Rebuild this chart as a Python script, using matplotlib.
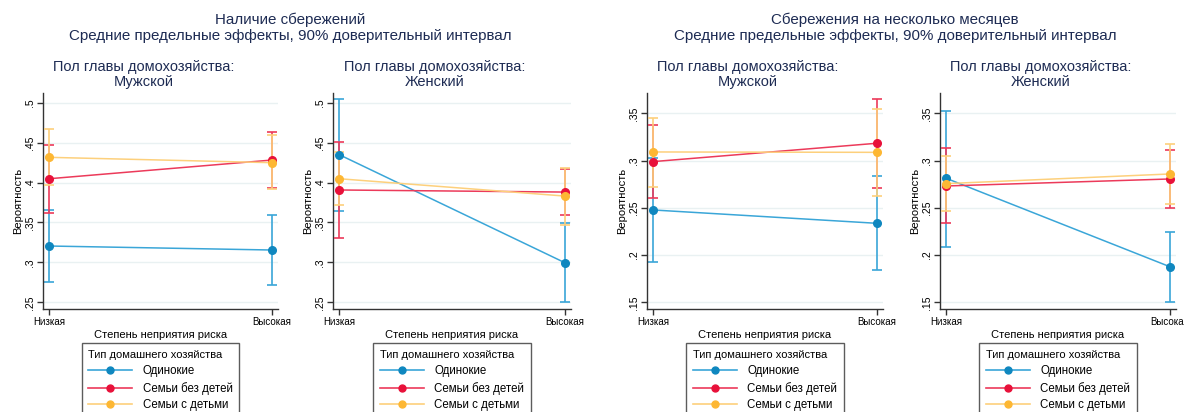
import matplotlib
matplotlib.use('Agg')
import matplotlib.pyplot as plt
from matplotlib.lines import Line2D

plt.rcParams['font.family'] = ['Liberation Sans', 'DejaVu Sans']

W, H = 1184, 412

types = ['Одинокие', 'Семьи без детей', 'Семьи с детьми']
risk = ['Низкая', 'Высокая']

# Наличие сбережений, мужской
sav_m_est = [[0.3205, 0.3155], [0.4048, 0.4282], [0.4316, 0.4249]]
sav_m_lo = [[0.2750, 0.2721], [0.3614, 0.3927], [0.3965, 0.3915]]
sav_m_hi = [[0.3656, 0.3594], [0.4474, 0.4637], [0.4666, 0.4595]]

# Наличие сбережений, женский
sav_f_est = [[0.4349, 0.2997], [0.3907, 0.3881], [0.4048, 0.3831]]
sav_f_lo = [[0.3648, 0.2500], [0.3301, 0.3589], [0.3714, 0.3472]]
sav_f_hi = [[0.5046, 0.3489], [0.4512, 0.4169], [0.4382, 0.4186]]

# Сбережения на несколько месяцев, мужской
mon_m_est = [[0.2477, 0.2336], [0.2989, 0.3183], [0.3091, 0.3087]]
mon_m_lo = [[0.1930, 0.1839], [0.2600, 0.2713], [0.2717, 0.2625]]
mon_m_hi = [[0.3024, 0.2833], [0.3377, 0.3652], [0.3454, 0.3542]]

# Сбережения на несколько месяцев, женский
mon_f_est = [[0.2812, 0.1877], [0.2731, 0.2805], [0.2756, 0.2858]]
mon_f_lo = [[0.2089, 0.1507], [0.2343, 0.2502], [0.2463, 0.2544]]
mon_f_hi = [[0.3525, 0.2248], [0.3130, 0.3108], [0.3049, 0.3172]]

sav_ticks = [0.25, 0.3, 0.35, 0.4, 0.45, 0.5]
sav_labels = ['.25', '.3', '.35', '.4', '.45', '.5']
mon_ticks = [0.15, 0.2, 0.25, 0.3, 0.35]
mon_labels = ['.15', '.2', '.25', '.3', '.35']

titles = ['Наличие сбережений', 'Сбережения на несколько месяцев']
subtitle = 'Средние предельные эффекты, 90% доверительный интервал'
gender = ['Мужской', 'Женский']

mark_colors = ['#0f87bf', '#e8113a', '#fdb733']
line_colors = ['#3aa6d8', '#ec3a5a', '#fdd07c']
navy = '#1d2b53'

fig = plt.figure(figsize=(W / 100, H / 100), dpi=100)


def rect(l, r, t=93, b=309):
    return [l / W, 1 - b / H, (r - l) / W, (b - t) / H]


panels = [
    (43, 278, sav_m_est, sav_m_lo, sav_m_hi, sav_ticks, sav_labels, (0.2416, 0.5122), 0),
    (333, 571, sav_f_est, sav_f_lo, sav_f_hi, sav_ticks, sav_labels, (0.2416, 0.5122), 1),
    (647, 883, mon_m_est, mon_m_lo, mon_m_hi, mon_ticks, mon_labels, (0.1429, 0.3715), 0),
    (940, 1176, mon_f_est, mon_f_lo, mon_f_hi, mon_ticks, mon_labels, (0.1429, 0.3715), 1),
]

xs = [0, 1]
for l, r, est, lo, hi, ticks, labels, ylim, g in panels:
    ax = fig.add_axes(rect(l, r))
    for k in range(3):
        err = [[est[k][i] - lo[k][i] for i in range(2)],
               [hi[k][i] - est[k][i] for i in range(2)]]
        ax.errorbar(xs, est[k], yerr=err, fmt='none', ecolor=line_colors[k],
                    elinewidth=1.2, capsize=3.5, capthick=1.2, zorder=2 + k)
        ax.plot(xs, est[k], color=line_colors[k], lw=1.1, zorder=5 + k)
        ax.plot(xs, est[k], 'o', color=mark_colors[k], ms=5.5, zorder=8 + k)
    ax.set_xlim(-0.028, 1.028)
    ax.set_ylim(*ylim)
    ax.set_yticks(ticks)
    ax.set_yticklabels(labels, rotation=90, va='center', fontsize=7.5)
    ax.set_xticks(xs)
    ax.set_xticklabels(risk, fontsize=7)
    ax.grid(axis='y', color='#e9f1f2', lw=1)
    ax.set_axisbelow(True)
    for s in ['top', 'right']:
        ax.spines[s].set_visible(False)
    for s in ['left', 'bottom']:
        ax.spines[s].set_color('#333333')
        ax.spines[s].set_linewidth(1)
    ax.tick_params(length=4, width=1, color='#333333', pad=2)
    ax.set_ylabel('Вероятность', fontsize=8, labelpad=1)
    ax.set_xlabel('Степень неприятия риска', fontsize=8, labelpad=2)

    cx = (l + r) / 2
    tx = cx - 17
    fig.text(tx / W, 1 - 67 / H, 'Пол главы домохозяйства:', ha='center', va='center',
             fontsize=10.5, color=navy)
    fig.text(tx / W, 1 - 82 / H, gender[g], ha='center', va='center',
             fontsize=10.5, color=navy)

    handles = [Line2D([0], [0], color=line_colors[k], lw=1.2, marker='o',
                      markerfacecolor=mark_colors[k], markeredgecolor=mark_colors[k],
                      ms=5) for k in range(3)]
    leg = fig.legend(handles, types, loc='upper center',
                     bbox_to_anchor=(cx / W, 1 - 343 / H), borderaxespad=0,
                     fontsize=8.3, title='Тип домашнего хозяйства', title_fontsize=8,
                     frameon=True, fancybox=False, edgecolor='#333333',
                     handlelength=3.8, handletextpad=0.9, labelspacing=0.42,
                     borderpad=0.6, alignment='left')
    leg.get_frame().set_linewidth(1)

for cx, t in zip([290, 895], titles):
    fig.text(cx / W, 1 - 20 / H, t, ha='center', va='center', fontsize=10.9, color=navy)
    fig.text(cx / W, 1 - 36 / H, subtitle, ha='center', va='center', fontsize=10.9, color=navy)

fig.savefig('out.png', dpi=100)
